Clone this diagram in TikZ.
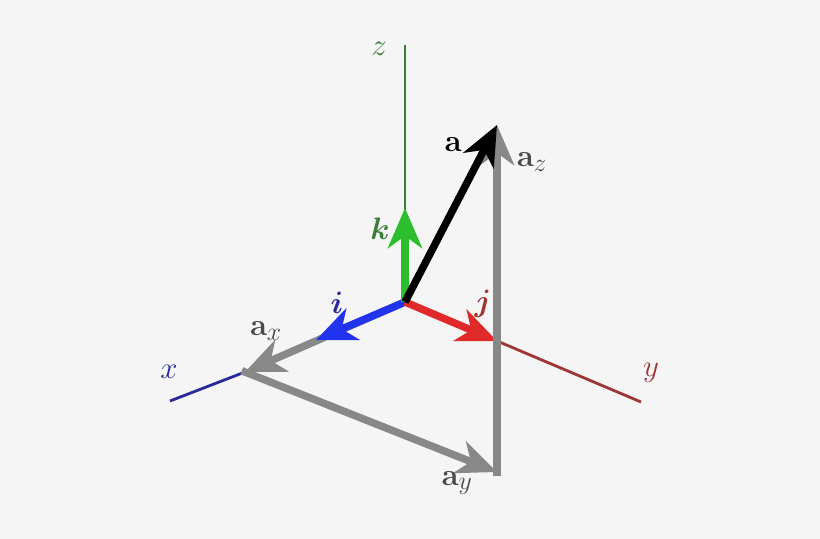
\documentclass[tikz,border=0pt]{standalone}
\usepackage{graphicx}
\usepackage{amsmath,bm}
\usetikzlibrary{arrows.meta}
\definecolor{bg}{HTML}{F5F5F5}
\definecolor{zax}{HTML}{3A7D3A}
\definecolor{kcol}{HTML}{2DBE2D}
\definecolor{xax}{HTML}{2A2A9A}
\definecolor{icol}{HTML}{2233EE}
\definecolor{yax}{HTML}{A03535}
\definecolor{jcol}{HTML}{E02A2A}
\definecolor{grayv}{HTML}{888888}
\definecolor{glabel}{HTML}{4A4A4A}
\newcommand{\lb}[1]{\scalebox{1.25}{$#1$}}
\begin{document}
\begin{tikzpicture}[x=1bp,y=-1bp,
  axis/.style={line width=2.8bp},
  vec/.style={line width=7.5bp,-{Stealth[length=40bp,width=34bp,inset=12bp]}},
  lbl/.style={font=\fontsize{24.88}{30}\selectfont, inner sep=0pt}]
\fill[bg] (0,0) rectangle (820,539);
\useasboundingbox (0,0) rectangle (820,539);
\coordinate (O) at (405,302);
\coordinate (zend) at (405,45);
\coordinate (xend) at (170,401);
\coordinate (yend) at (641,402);
\coordinate (ktip) at (405,208);
\coordinate (itip) at (316,340);
\coordinate (jtip) at (497,341);
\coordinate (ax) at (245,372);
\coordinate (ay) at (497,472);
\coordinate (az) at (497,125);
% axes
\draw[axis,zax] (O) -- (zend);
\draw[axis,xax] (ax) -- (xend);
\draw[axis,yax] (O) -- (yend);
% components
\draw[vec,grayv] (O) -- (ax);
\draw[vec,icol] (O) -- (itip);
\draw[vec,jcol] (O) -- (jtip);
\draw[vec,kcol] (O) -- (ktip);
\draw[vec,grayv,shorten <=-3.5bp] (ax) -- (ay);
\draw[vec,grayv,shorten <=-3.5bp] (ay) -- (az);
\draw[vec,black] (O) -- (az);
% labels
\node[lbl,text=zax] (zl) at (379,49) {\lb{z}};
\node[lbl,text=xax] (xl) at (169,372) {\lb{x}};
\node[lbl,text=yax] (yl) at (651,373) {\lb{y}};
\node[lbl,text=zax] (kl) at (380,229) {\lb{\bm{k}}};
\node[lbl,text=xax] (il) at (337,303) {\lb{\bm{i}}};
\node[lbl,text=yax] (jl) at (483,304) {\lb{\bm{j}}};
\node[lbl,text=black] (al) at (453,145) {\lb{\mathbf{a}}};
\node[lbl,text=glabel] (axl) at (266,331) {\lb{\mathbf{a}_x}};
\node[lbl,text=glabel] (ayl) at (457,483) {\lb{\mathbf{a}_y}};
\node[lbl,text=glabel] (azl) at (532,162) {\lb{\mathbf{a}_z}};
\end{tikzpicture}
\end{document}
